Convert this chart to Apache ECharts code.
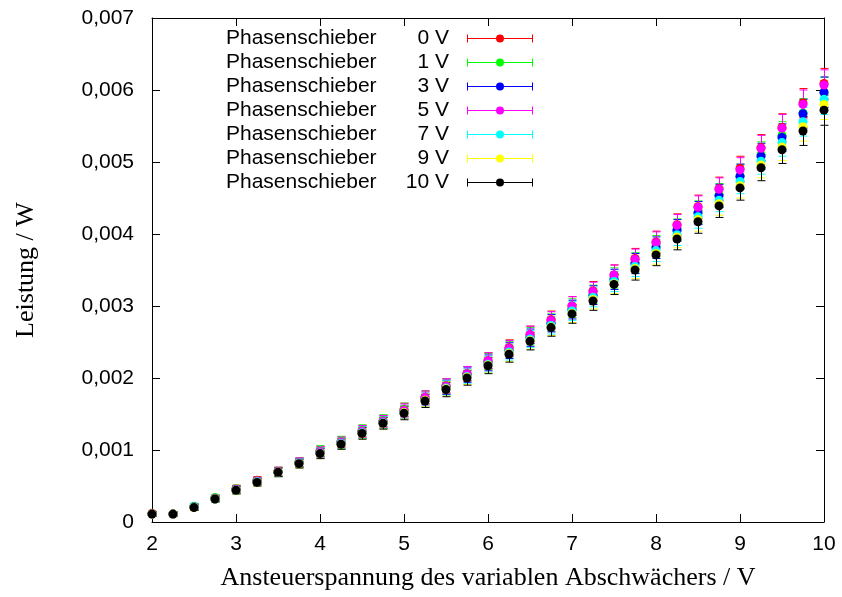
<!DOCTYPE html>
<html>
<head>
<meta charset="utf-8">
<title>Leistung</title>
<script src="https://cdn.jsdelivr.net/npm/echarts@6/dist/echarts.min.js"></script>
<style>
html,body{margin:0;padding:0;background:#fff;}
#canvas{width:842px;height:597px;}
</style>
</head>
<body>
<div id="canvas"></div>
<script>
// Ansteuerspannung / V
var spannung = [2, 2.25, 2.5, 2.75, 3, 3.25, 3.5, 3.75, 4, 4.25, 4.5, 4.75, 5, 5.25, 5.5, 5.75,
    6, 6.25, 6.5, 6.75, 7, 7.25, 7.5, 7.75, 8, 8.25, 8.5, 8.75, 9, 9.25, 9.5, 9.75, 10];

// Leistung / W, je Phasenschieber-Spannung
var p0V = [0.00012, 0.00011, 0.00021, 0.00033, 0.00046, 0.00058, 0.00070, 0.00083, 0.00098, 0.00111, 0.00126,
    0.00140, 0.00156, 0.00173, 0.00189, 0.00206, 0.00224, 0.00242, 0.00260, 0.00281, 0.00300, 0.00321,
    0.00343, 0.00366, 0.00389, 0.00413, 0.00438, 0.00463, 0.00491, 0.00520, 0.00548, 0.00582, 0.00609];
var p1V = [0.00011, 0.00011, 0.00022, 0.00034, 0.00046, 0.00057, 0.00070, 0.00083, 0.00099, 0.00112, 0.00127,
    0.00141, 0.00156, 0.00173, 0.00189, 0.00206, 0.00223, 0.00240, 0.00258, 0.00277, 0.00297, 0.00316,
    0.00339, 0.00360, 0.00383, 0.00406, 0.00430, 0.00454, 0.00480, 0.00510, 0.00537, 0.00568, 0.00597];
var p3V = [0.00011, 0.00011, 0.00021, 0.00032, 0.00045, 0.00056, 0.00069, 0.00082, 0.00096, 0.00109, 0.00124,
    0.00138, 0.00153, 0.00170, 0.00187, 0.00204, 0.00221, 0.00238, 0.00256, 0.00276, 0.00295, 0.00315,
    0.00337, 0.00359, 0.00381, 0.00405, 0.00429, 0.00453, 0.00480, 0.00508, 0.00534, 0.00567, 0.00597];
var p5V = [0.00011, 0.00011, 0.00021, 0.00033, 0.00045, 0.00057, 0.00070, 0.00083, 0.00098, 0.00111, 0.00126,
    0.00140, 0.00155, 0.00173, 0.00189, 0.00206, 0.00224, 0.00241, 0.00260, 0.00280, 0.00300, 0.00320,
    0.00343, 0.00365, 0.00388, 0.00412, 0.00437, 0.00462, 0.00489, 0.00519, 0.00547, 0.00580, 0.00607];
var p7V = [0.00011, 0.00011, 0.00021, 0.00032, 0.00044, 0.00056, 0.00069, 0.00082, 0.00096, 0.00109, 0.00124,
    0.00138, 0.00152, 0.00169, 0.00186, 0.00202, 0.00219, 0.00236, 0.00254, 0.00273, 0.00293, 0.00312,
    0.00334, 0.00355, 0.00377, 0.00399, 0.00424, 0.00447, 0.00473, 0.00501, 0.00527, 0.00556, 0.00587];
var p9V = [0.00011, 0.00011, 0.00020, 0.00032, 0.00044, 0.00055, 0.00069, 0.00081, 0.00095, 0.00108, 0.00123,
    0.00137, 0.00152, 0.00169, 0.00185, 0.00201, 0.00218, 0.00234, 0.00252, 0.00271, 0.00290, 0.00309,
    0.00331, 0.00352, 0.00373, 0.00396, 0.00420, 0.00442, 0.00467, 0.00496, 0.00521, 0.00549, 0.00580];
var p10V = [0.00011, 0.00011, 0.00020, 0.00032, 0.00044, 0.00055, 0.00069, 0.00081, 0.00095, 0.00108, 0.00123,
    0.00137, 0.00151, 0.00168, 0.00184, 0.00200, 0.00217, 0.00233, 0.00251, 0.00270, 0.00289, 0.00307,
    0.00330, 0.00350, 0.00371, 0.00393, 0.00417, 0.00439, 0.00464, 0.00492, 0.00517, 0.00543, 0.00572];

// Messfehler (+/-) / W
var fehler = [0.00003, 0.00003, 0.00004, 0.00004, 0.00005, 0.00005, 0.00006, 0.00006, 0.00007, 0.00007, 0.00008,
    0.00008, 0.00009, 0.00009, 0.00010, 0.00010, 0.00011, 0.00011, 0.00012, 0.00012, 0.00013, 0.00013,
    0.00014, 0.00014, 0.00015, 0.00015, 0.00016, 0.00016, 0.00017, 0.00018, 0.00019, 0.00020, 0.00021];

var phasen = ['0 V', '1 V', '3 V', '5 V', '7 V', '9 V', '10 V'];
var werte = [p0V, p1V, p3V, p5V, p7V, p9V, p10V];
var farben = ['#ff0000', '#00ff00', '#0000ff', '#ff00ff', '#00ffff', '#ffff00', '#000000'];

var sans = '"Liberation Sans", Arial, sans-serif';
var serif = '"Liberation Serif", "Times New Roman", serif';

function fehlerbalken(params, api) {
    var x = api.value(0);
    var p = api.coord([x, api.value(1)]);
    var lo = api.coord([x, api.value(2)]);
    var hi = api.coord([x, api.value(3)]);
    var px = Math.round(p[0]) + 0.5;
    var st = {stroke: api.visual('color'), lineWidth: 1};
    return {
        type: 'group',
        children: [
            {type: 'line', shape: {x1: px, y1: lo[1], x2: px, y2: hi[1]}, style: st},
            {type: 'line', shape: {x1: px - 4, y1: lo[1], x2: px + 4, y2: lo[1]}, style: st},
            {type: 'line', shape: {x1: px - 4, y1: hi[1], x2: px + 4, y2: hi[1]}, style: st}
        ]
    };
}

var series = [];
var namen = [];
for (var i = 0; i < werte.length; i++) {
    var name = 'Phasenschieber ' + phasen[i];
    namen.push(name);
    var punkte = [];
    var balken = [];
    for (var j = 0; j < spannung.length; j++) {
        punkte.push([spannung[j], werte[i][j]]);
        balken.push([spannung[j], werte[i][j], werte[i][j] - fehler[j], werte[i][j] + fehler[j]]);
    }
    series.push({
        name: name,
        type: 'custom',
        renderItem: fehlerbalken,
        itemStyle: {color: farben[i]},
        encode: {x: 0, y: 1},
        data: balken,
        silent: true
    });
    series.push({
        name: name,
        type: 'scatter',
        symbol: 'circle',
        symbolSize: 9,
        itemStyle: {color: farben[i], opacity: 1},
        data: punkte,
        silent: true
    });
}

// legend symbol: horizontal error bar with point
var legendIcon = 'path://M0,1 h1 v8 h-1 z M1,4.5 h28 v1 h-28 z M37,4.5 h28 v1 h-28 z M65,1 h1 v8 h-1 z ' +
    'M29,5 a4,4 0 1,0 8,0 a4,4 0 1,0 -8,0 z';

var myChart = echarts.init(document.getElementById('canvas'));

var option = {
    animation: false,
    backgroundColor: '#fff',
    grid: {left: 152, right: 18, top: 18, bottom: 75},
    legend: {
        data: namen,
        orient: 'vertical',
        align: 'right',
        left: 226,
        top: 28,
        padding: 0,
        itemGap: 3,
        itemWidth: 66,
        itemHeight: 10,
        icon: legendIcon,
        selectedMode: false,
        itemStyle: {borderWidth: 0},
        formatter: function (name) {
            var k = namen.indexOf(name);
            return '{a|Phasenschieber}{b|' + phasen[k] + '}{c| }';
        },
        textStyle: {
            color: '#000',
            fontFamily: sans,
            fontSize: 21,
            rich: {
                a: {fontFamily: sans, fontSize: 21, color: '#000', width: 150, lineHeight: 24, align: 'left'},
                b: {fontFamily: sans, fontSize: 21, color: '#000', width: 73, lineHeight: 24, align: 'right'},
                c: {fontFamily: sans, fontSize: 21, width: 13, lineHeight: 24}
            }
        }
    },
    xAxis: [{
        type: 'value',
        min: 2,
        max: 10,
        interval: 1,
        name: 'Ansteuerspannung des variablen Abschwächers / V',
        nameLocation: 'middle',
        nameGap: 43,
        nameTextStyle: {fontFamily: serif, fontSize: 26, color: '#000'},
        axisLine: {show: true, onZero: false, lineStyle: {color: '#000', width: 1}},
        axisTick: {show: true, inside: true, length: 8, lineStyle: {color: '#000'}},
        axisLabel: {color: '#000', fontFamily: sans, fontSize: 21, margin: 12},
        splitLine: {show: false}
    }, {
        type: 'value',
        position: 'top',
        min: 2,
        max: 10,
        interval: 1,
        axisLine: {show: true, onZero: false, lineStyle: {color: '#000', width: 1}},
        axisTick: {show: true, inside: true, length: 8, lineStyle: {color: '#000'}},
        axisLabel: {show: false},
        splitLine: {show: false}
    }],
    yAxis: [{
        type: 'value',
        min: 0,
        max: 0.007,
        interval: 0.001,
        name: 'Leistung / W',
        nameLocation: 'middle',
        nameGap: 113,
        nameTextStyle: {fontFamily: serif, fontSize: 26, color: '#000'},
        axisLine: {show: true, onZero: false, lineStyle: {color: '#000', width: 1}},
        axisTick: {show: true, inside: true, length: 8, lineStyle: {color: '#000'}},
        axisLabel: {
            color: '#000',
            fontFamily: sans,
            fontSize: 21,
            margin: 18,
            formatter: function (v) {
                if (v === 0) return '0';
                return v.toFixed(3).replace('.', ',');
            }
        },
        splitLine: {show: false}
    }, {
        type: 'value',
        position: 'right',
        min: 0,
        max: 0.007,
        interval: 0.001,
        axisLine: {show: true, onZero: false, lineStyle: {color: '#000', width: 1}},
        axisTick: {show: true, inside: true, length: 8, lineStyle: {color: '#000'}},
        axisLabel: {show: false},
        splitLine: {show: false}
    }],
    series: series
};

myChart.setOption(option);
</script>
</body>
</html>
